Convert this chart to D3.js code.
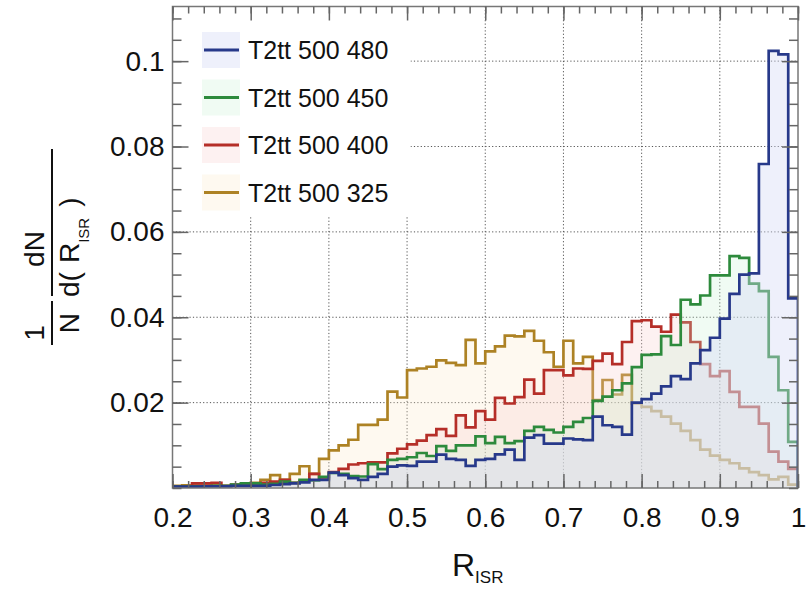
<!DOCTYPE html>
<html>
<head>
<meta charset="utf-8">
<script src="https://cdn.jsdelivr.net/npm/d3@7"></script>
<style>
body{margin:0;background:#fff}
svg{display:block}
text{font-family:"Liberation Sans",Arial,Helvetica,sans-serif;fill:#111}
</style>
</head>
<body>
<svg id="chart" width="811" height="590"></svg>
<script>
// histogram binning: 64 bins of 0.0125 from 0.2 to 1.0
const binLow = 0.2;
const binWidth = 0.0125;

// normalised R_ISR distributions, one value per bin
const h480 = [
  0.0003,0.0003,0.0003,0.0004,0.0004,0.0004,0.0005,0.0005,
  0.0005,0.0005,0.0007,0.0009,0.0011,0.0013,0.0019,0.0019,
  0.0036,0.0030,0.0023,0.0019,0.0026,0.0033,0.0050,0.0053,
  0.0052,0.0062,0.0062,0.0078,0.0068,0.0066,0.0052,0.0066,
  0.0068,0.0079,0.0090,0.0066,0.0118,0.0124,0.0104,0.0104,
  0.0116,0.0114,0.0112,0.0167,0.0147,0.0143,0.0125,0.0200,
  0.0208,0.0221,0.0238,0.0262,0.0255,0.0292,0.0323,0.0352,
  0.0397,0.0455,0.0500,0.0503,0.0759,0.1024,0.1016,0.0444];
const h450 = [
  0.0003,0.0003,0.0004,0.0004,0.0005,0.0005,0.0008,0.0011,
  0.0011,0.0008,0.0010,0.0015,0.0012,0.0019,0.0017,0.0026,
  0.0035,0.0033,0.0028,0.0027,0.0056,0.0044,0.0066,0.0068,
  0.0072,0.0082,0.0075,0.0098,0.0087,0.0100,0.0100,0.0121,
  0.0105,0.0120,0.0105,0.0110,0.0134,0.0143,0.0136,0.0130,
  0.0143,0.0155,0.0164,0.0204,0.0214,0.0229,0.0245,0.0283,
  0.0312,0.0313,0.0356,0.0335,0.0441,0.0430,0.0451,0.0498,
  0.0498,0.0543,0.0539,0.0479,0.0461,0.0307,0.0229,0.0108];
const h400 = [
  0.0004,0.0004,0.0011,0.0011,0.0012,0.0005,0.0007,0.0008,
  0.0010,0.0012,0.0015,0.0019,0.0012,0.0016,0.0033,0.0022,
  0.0037,0.0045,0.0055,0.0058,0.0060,0.0060,0.0081,0.0092,
  0.0102,0.0111,0.0124,0.0138,0.0122,0.0170,0.0142,0.0180,
  0.0160,0.0211,0.0198,0.0213,0.0254,0.0221,0.0276,0.0276,
  0.0264,0.0280,0.0279,0.0298,0.0315,0.0290,0.0342,0.0391,
  0.0393,0.0378,0.0366,0.0406,0.0388,0.0342,0.0290,0.0262,
  0.0274,0.0225,0.0190,0.0190,0.0151,0.0085,0.0062,0.0045];
const h325 = [
  0.0005,0.0006,0.0007,0.0008,0.0006,0.0004,0.0008,0.0009,
  0.0012,0.0019,0.0030,0.0019,0.0033,0.0051,0.0033,0.0068,
  0.0088,0.0100,0.0113,0.0148,0.0148,0.0160,0.0226,0.0212,
  0.0276,0.0280,0.0284,0.0299,0.0293,0.0288,0.0347,0.0292,
  0.0320,0.0332,0.0357,0.0355,0.0368,0.0345,0.0318,0.0284,
  0.0345,0.0292,0.0307,0.0206,0.0253,0.0219,0.0265,0.0198,
  0.0190,0.0180,0.0167,0.0151,0.0134,0.0112,0.0090,0.0076,
  0.0066,0.0058,0.0046,0.0037,0.0030,0.0020,0.0026,0.0008];

const seriesNames = ["T2tt 500 480", "T2tt 500 450", "T2tt 500 400", "T2tt 500 325"];
const lineColors = ["#27398a", "#2d8a3c", "#b52e28", "#ad8224"];
const fillColors = ["#d4d9f6", "#c4efd0", "#f8c8c8", "#fce8c4"];
const fillAlpha = [0.4, 0.25, 0.25, 0.25];

const xTicks = [0.2, 0.3, 0.4, 0.5, 0.6, 0.7, 0.8, 0.9, 1.0];
const xTickLabels = ["0.2", "0.3", "0.4", "0.5", "0.6", "0.7", "0.8", "0.9", "1"];
const yTicks = [0.02, 0.04, 0.06, 0.08, 0.1];
const yTickLabels = ["0.02", "0.04", "0.06", "0.08", "0.1"];

const svg = d3.select("#chart");
const plot = {left: 172.5, right: 798, top: 6.5, bottom: 488};

const x = d3.scaleLinear().domain([0.2, 1.0]).range([plot.left, plot.right]);
const y = d3.scaleLinear().domain([0, 0.1128]).range([plot.bottom, plot.top]);

// table for drawing: last series drawn first
const hists = [h480, h450, h400, h325].map((v, i) => ({
  name: seriesNames[i], values: v, line: lineColors[i], fill: fillColors[i], alpha: fillAlpha[i]
}));

svg.append("defs").append("clipPath").attr("id", "clip")
  .append("rect")
  .attr("x", plot.left).attr("y", plot.top)
  .attr("width", plot.right - plot.left).attr("height", plot.bottom - plot.top);

// dotted grid
const grid = svg.append("g").attr("stroke", "#555").attr("stroke-width", 1)
  .attr("stroke-dasharray", "1.2,2.2");
grid.selectAll(".gx").data(xTicks.slice(1, -1)).enter().append("line")
  .attr("x1", d => x(d)).attr("x2", d => x(d))
  .attr("y1", plot.top).attr("y2", plot.bottom);
grid.selectAll(".gy").data(yTicks).enter().append("line")
  .attr("x1", plot.left).attr("x2", plot.right)
  .attr("y1", d => y(d)).attr("y2", d => y(d));

// step outline points of one histogram
function stepPoints(values) {
  const pts = [[binLow, 0]];
  values.forEach((v, i) => {
    pts.push([binLow + i * binWidth, v]);
    pts.push([binLow + (i + 1) * binWidth, v]);
  });
  pts.push([binLow + values.length * binWidth, 0]);
  return pts;
}
const line = d3.line().x(d => x(d[0])).y(d => y(d[1]));
const area = d3.area().x(d => x(d[0])).y0(y(0)).y1(d => y(d[1]));

const histG = svg.append("g").attr("clip-path", "url(#clip)");
hists.slice().reverse().forEach(h => {
  const pts = stepPoints(h.values);
  histG.append("path").attr("d", area(pts))
    .attr("fill", h.fill).attr("fill-opacity", h.alpha);
  histG.append("path").attr("d", line(pts))
    .attr("fill", "none").attr("stroke", h.line).attr("stroke-width", 2.7)
    .attr("stroke-linejoin", "miter");
});

// legend (white box hides the grid behind it)
svg.append("rect").attr("x", plot.left + 1).attr("y", plot.top + 1)
  .attr("width", 237).attr("height", 209).attr("fill", "#fff");
const leg = svg.append("g");
const legItems = leg.selectAll("g").data(hists).enter().append("g")
  .attr("transform", (d, i) => `translate(202,${50 + i * 47.5})`);
legItems.append("rect").attr("x", 0).attr("y", -18).attr("width", 38).attr("height", 36)
  .attr("fill", d => d.fill).attr("fill-opacity", d => d.alpha);
legItems.append("line").attr("x1", 2).attr("x2", 37).attr("y1", 0).attr("y2", 0)
  .attr("stroke", d => d.line).attr("stroke-width", 3);
legItems.append("text").attr("x", 46).attr("y", 9)
  .style("font-size", "25px").text(d => d.name);

// frame
svg.append("rect").attr("x", plot.left).attr("y", plot.top)
  .attr("width", plot.right - plot.left).attr("height", plot.bottom - plot.top)
  .attr("fill", "none").attr("stroke", "#777").attr("stroke-width", 1.5);

// ticks on all four sides, pointing inward
function styleAxis(g) {
  g.select(".domain").remove();
  g.selectAll(".tick line").attr("stroke", "#666").attr("stroke-width", 1.5);
  g.selectAll("text").style("font-size", "28px").attr("fill", "#111");
}
const xMinor = d3.range(0.2, 1.0001, 0.02);
const yMinor = d3.range(0, 0.1126, 0.005);

svg.append("g").attr("transform", `translate(0,${plot.bottom})`)
  .call(d3.axisBottom(x).tickValues(xTicks).tickSize(-14).tickPadding(19)
    .tickFormat((d, i) => xTickLabels[i])).call(styleAxis);
svg.append("g").attr("transform", `translate(0,${plot.bottom})`)
  .call(d3.axisBottom(x).tickValues(xMinor).tickSize(-7).tickFormat("")).call(styleAxis);
svg.append("g").attr("transform", `translate(0,${plot.top})`)
  .call(d3.axisTop(x).tickValues(xTicks).tickSize(-14).tickFormat("")).call(styleAxis);
svg.append("g").attr("transform", `translate(0,${plot.top})`)
  .call(d3.axisTop(x).tickValues(xMinor).tickSize(-7).tickFormat("")).call(styleAxis);

svg.append("g").attr("transform", `translate(${plot.left},0)`)
  .call(d3.axisLeft(y).tickValues(yTicks).tickSize(-16).tickPadding(8)
    .tickFormat((d, i) => yTickLabels[i])).call(styleAxis);
svg.append("g").attr("transform", `translate(${plot.left},0)`)
  .call(d3.axisLeft(y).tickValues(yMinor).tickSize(-9).tickFormat("")).call(styleAxis);
svg.append("g").attr("transform", `translate(${plot.right},0)`)
  .call(d3.axisRight(y).tickValues(yTicks).tickSize(-16).tickFormat("")).call(styleAxis);
svg.append("g").attr("transform", `translate(${plot.right},0)`)
  .call(d3.axisRight(y).tickValues(yMinor).tickSize(-9).tickFormat("")).call(styleAxis);

// x axis title  R_ISR
const xt = svg.append("text").attr("x", 452).attr("y", 576).style("font-size", "32px");
xt.append("tspan").text("R");
xt.append("tspan").attr("dy", 7).style("font-size", "17px").text("ISR");

// y axis title  1/N dN/d(R_ISR), drawn rotated
const yt = svg.append("g").attr("transform", "translate(52,345) rotate(-90)");
yt.append("text").attr("x", 12).attr("y", -8).attr("text-anchor", "middle")
  .style("font-size", "28px").text("1");
yt.append("line").attr("x1", 0).attr("x2", 44).attr("y1", 0).attr("y2", 0)
  .attr("stroke", "#111").attr("stroke-width", 2);
yt.append("text").attr("x", 22).attr("y", 27).attr("text-anchor", "middle")
  .style("font-size", "28px").text("N");
yt.append("text").attr("x", 96).attr("y", -8).attr("text-anchor", "middle")
  .style("font-size", "28px").text("dN");
yt.append("line").attr("x1", 49).attr("x2", 196).attr("y1", 0).attr("y2", 0)
  .attr("stroke", "#111").attr("stroke-width", 2);
const den = yt.append("text").attr("x", 48).attr("y", 27).style("font-size", "28px");
den.append("tspan").text("d(");
den.append("tspan").attr("dx", 9).text("R");
den.append("tspan").attr("dy", 10).style("font-size", "15px").text("ISR");
den.append("tspan").attr("dy", -10).attr("dx", 11).text(")");
</script>
</body>
</html>
